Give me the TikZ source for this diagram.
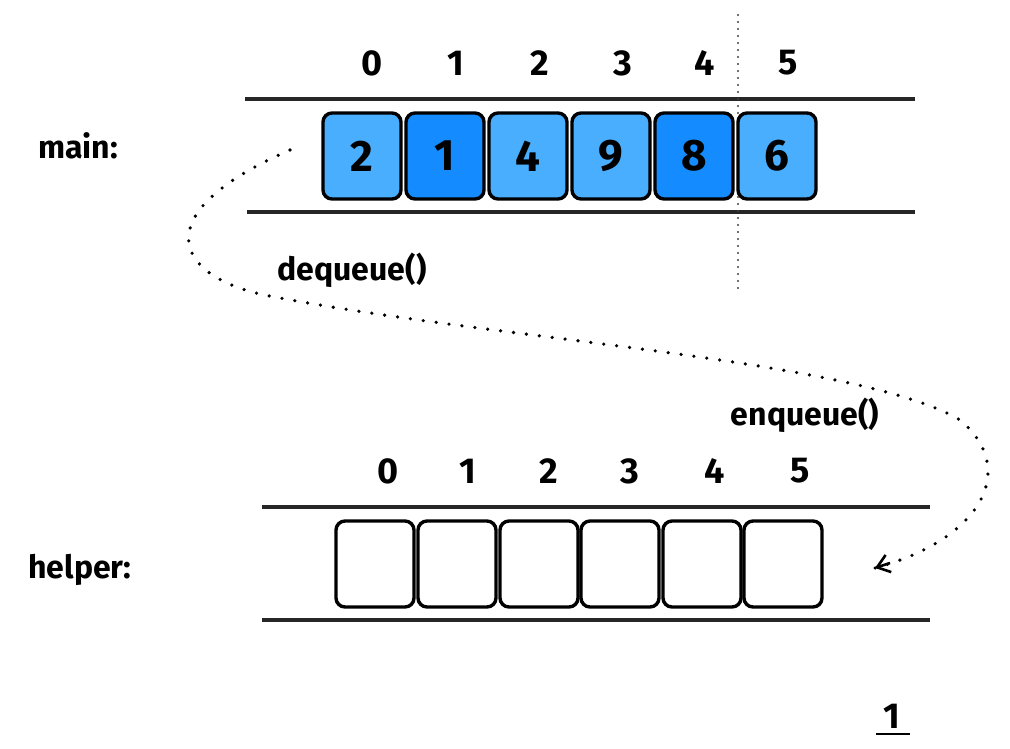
\documentclass[tikz,border=0pt]{standalone}
\usepackage{fontspec}
\setmainfont{Fira Sans}
\usetikzlibrary{arrows.meta}
\definecolor{lightcell}{RGB}{74,174,255}
\definecolor{darkcell}{RGB}{20,140,255}
\tikzset{
  cell/.style={draw=black, line width=3.4pt, rounded corners=9pt, minimum width=78pt, minimum height=86pt, inner sep=0pt, font=\fontsize{44}{44}\selectfont\bfseries},
  idx/.style={font=\fontsize{36}{36}\selectfont\bfseries, inner sep=0pt},
  lbl/.style={font=\fontsize{32}{32}\selectfont\bfseries, inner sep=0pt},
  rail/.style={line width=4pt, black!85},
  dotline/.style={line width=3.6pt, dash pattern=on 0pt off 13pt, line cap=round}
}
\begin{document}
\begin{tikzpicture}[x=1pt,y=-1pt]
\useasboundingbox (0,0) rectangle (1010,748);
% main rails
\coordinate (mt1) at (245,99); \coordinate (mt2) at (915,99);
\coordinate (mb1) at (247,212); \coordinate (mb2) at (915,212);
\draw[rail] (mt1) -- (mt2);
\draw[rail] (mb1) -- (mb2);
% vertical dotted line
\coordinate (v1) at (738,15); \coordinate (v2) at (738,292);
\draw[line width=2.2pt, dash pattern=on 0pt off 7pt, line cap=round, black!75] (v1) -- (v2);
% main cells
\node[cell, fill=lightcell] (m0) at (362,156) {2};
\node[cell, fill=darkcell]  (m1) at (445,156) {1};
\node[cell, fill=lightcell] (m2) at (528,156) {4};
\node[cell, fill=lightcell] (m3) at (611,156) {9};
\node[cell, fill=darkcell]  (m4) at (694,156) {8};
\node[cell, fill=lightcell] (m5) at (777,156) {6};
% main indices
\node[idx] (mi0) at (372,63) {0};
\node[idx] (mi1) at (456,63) {1};
\node[idx] (mi2) at (540,63) {2};
\node[idx] (mi3) at (623,63) {3};
\node[idx] (mi4) at (705,63) {4};
\node[idx] (mi5) at (788,63) {5};
\node[lbl] (mainlbl) at (78,146) {main:};
% helper rails
\coordinate (ht1) at (262,507); \coordinate (ht2) at (930,507);
\coordinate (hb1) at (262,620); \coordinate (hb2) at (930,620);
\draw[rail] (ht1) -- (ht2);
\draw[rail] (hb1) -- (hb2);
% helper cells
\node[cell, fill=white] (h0) at (375,564) {};
\node[cell, fill=white] (h1) at (457,564) {};
\node[cell, fill=white] (h2) at (539,564) {};
\node[cell, fill=white] (h3) at (620,564) {};
\node[cell, fill=white] (h4) at (702,564) {};
\node[cell, fill=white] (h5) at (783,564) {};
\node[idx] (hi0) at (388,471) {0};
\node[idx] (hi1) at (468,471) {1};
\node[idx] (hi2) at (549,471) {2};
\node[idx] (hi3) at (630,471) {3};
\node[idx] (hi4) at (715,471) {4};
\node[idx] (hi5) at (800,471) {5};
\node[lbl] (helperlbl) at (80,570) {helper:};
% labels
\node[lbl] (deq) at (352,270) {dequeue()};
\node[lbl] (enq) at (805,415) {enqueue()};
\node[font=\fontsize{36}{36}\selectfont\bfseries, inner sep=0pt] (pg) at (892,716) {1};
\coordinate (ul1) at (876,734); \coordinate (ul2) at (910,734);
\draw[line width=2.4pt] (ul1) -- (ul2);
% dotted curve
\coordinate (c0) at (290,150);
\coordinate (c1) at (275,297);
\coordinate (c2) at (875,568);
\draw[dotline] (c0) .. controls (140,215) and (175,280) .. (c1)
  .. controls (500,340) and (860,360) .. (960,420)
  .. controls (1020,470) and (980,540) .. (c2);
\draw[line width=2.6pt, -{Straight Barb[length=12pt,width=18pt]}] (890,563) -- (c2);
\end{tikzpicture}
\end{document}
